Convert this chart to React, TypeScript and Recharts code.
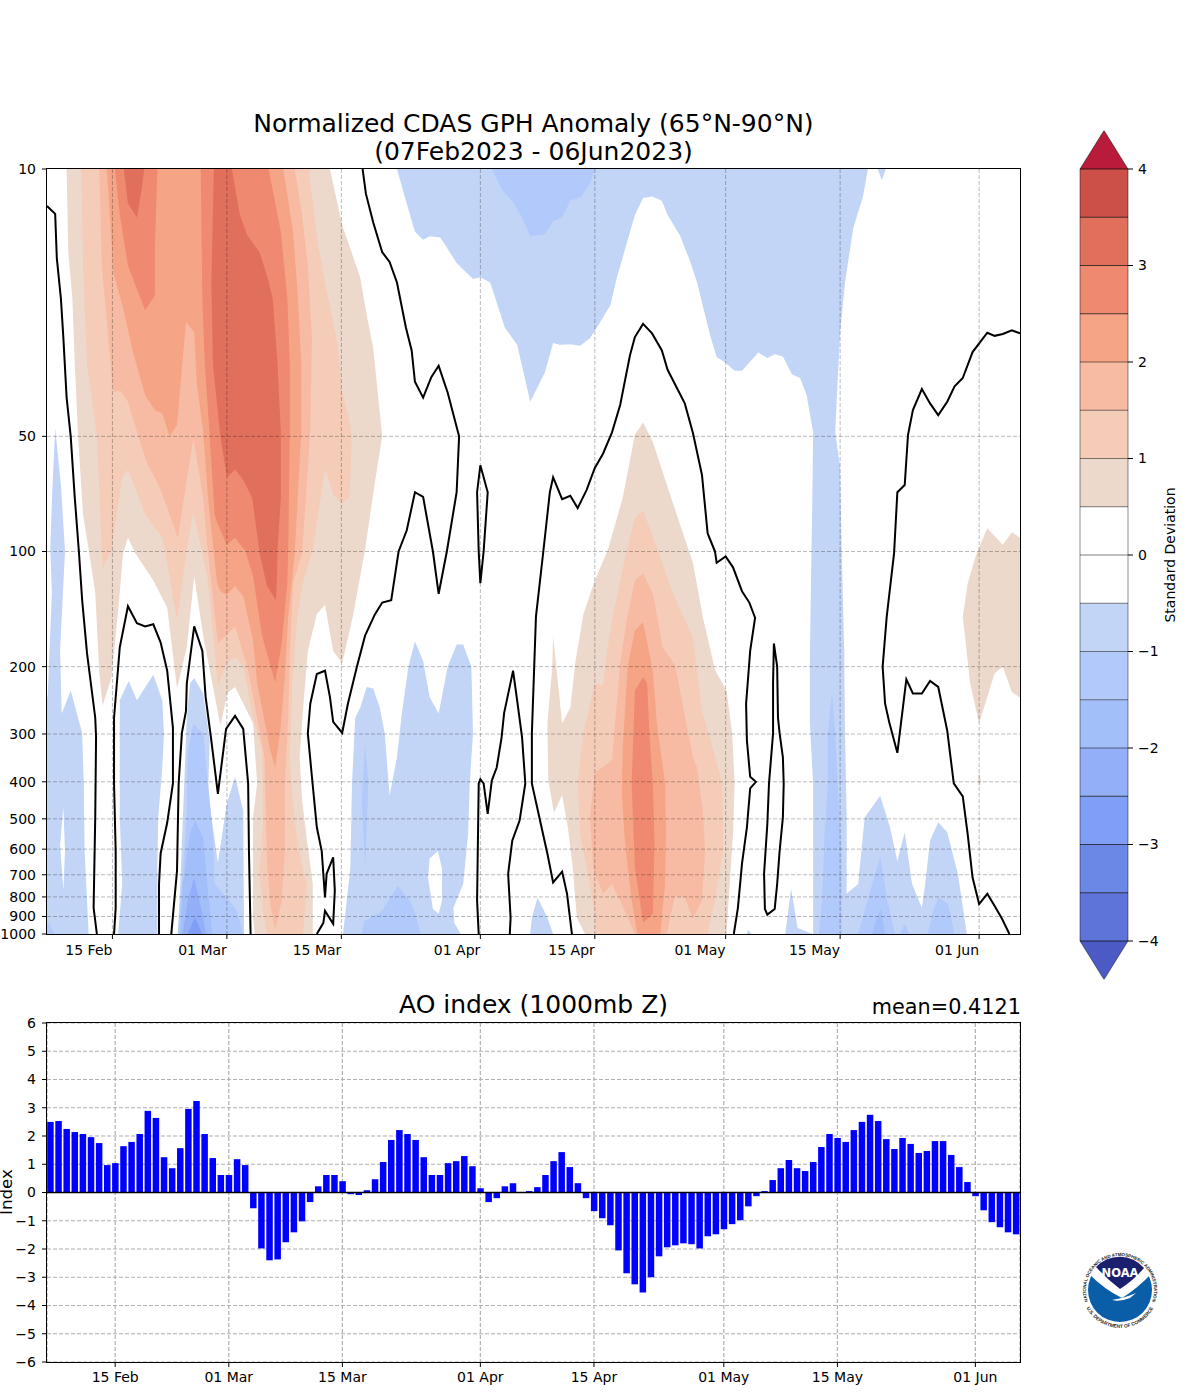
import {
  Bar,
  CartesianGrid,
  ComposedChart,
  ReferenceLine,
  Scatter,
  ScatterChart,
  XAxis,
  YAxis,
} from "recharts";

type Vertex = [number, number];

// x = days since 07 Feb 2023, y = pressure in hPa
const DATE_TICKS = [8, 22, 36, 53, 67, 83, 97, 114];
const DATE_LABELS = ["15 Feb", "01 Mar", "15 Mar", "01 Apr", "15 Apr", "01 May", "15 May", "01 Jun"];
const PRESSURE_TICKS = [10, 50, 100, 200, 300, 400, 500, 600, 700, 800, 900, 1000];
const AO_TICKS = [-6, -5, -4, -3, -2, -1, 0, 1, 2, 3, 4, 5, 6];
const CBAR_TICKS = [-4, -3, -2, -1, 0, 1, 2, 3, 4];

const AO_INDEX = [
  2.5, 2.53, 2.25, 2.14, 2.07, 1.96, 1.75, 0.97, 1.04, 1.64, 1.79, 2.07, 2.89, 2.64, 1.25, 0.86, 1.57, 2.96, 3.24, 2.07,
  1.22, 0.62, 0.62, 1.18, 0.97, -0.56, -1.98, -2.4, -2.37, -1.76, -1.41, -1.02, -0.34, 0.22, 0.62, 0.62, 0.4, -0.06, -0.09, 0.08,
  0.47, 1.08, 1.86, 2.21, 2.07, 1.86, 1.25, 0.62, 0.62, 1.04, 1.11, 1.29, 0.93, 0.15, -0.34, -0.2, 0.22, 0.33, 0.01, 0.05,
  0.19, 0.62, 1.11, 1.43, 0.9, 0.33, -0.2, -0.66, -0.91, -1.16, -2.05, -2.86, -3.25, -3.54, -3.0, -2.26, -1.94, -1.87, -1.8, -1.83,
  -1.98, -1.55, -1.48, -1.3, -1.12, -0.98, -0.49, -0.13, 0.05, 0.44, 0.86, 1.15, 0.86, 0.76, 1.08, 1.61, 2.07, 1.93, 1.79, 2.21,
  2.5, 2.75, 2.53, 1.89, 1.54, 1.93, 1.72, 1.4, 1.47, 1.82, 1.82, 1.33, 0.9, 0.37, -0.13, -0.63, -1.05, -1.23, -1.41, -1.48,
];

// filled contours
const POS05_A: Vertex[] = [[2.4,10],[2.6,16.5],[3.1,21.8],[3.4,32.5],[3.8,50],[4.4,80],[5.1,99],[5.9,128],[6.4,208],[6.8,253],[7.9,213],[8.7,143],[9.3,101],[9.9,92],[10.8,101],[13,119],[14.7,140],[15.9,228],[17.1,178],[18,116],[19.1,166],[21.2,285],[22.1,234],[23,226],[25.2,281],[25.7,404],[25.2,496],[25.2,907],[25.4,1000],[32.5,1000],[32.5,740],[31.8,570],[31.2,448],[30.9,345],[31.3,261],[31.9,182],[33,146],[34,138],[35,182],[36.1,196],[37.4,148],[38.9,99],[40.1,66],[41,50],[39.9,29.4],[39.1,24.1],[38.3,19.2],[36.1,14],[34.6,10]];
const POS10_A: Vertex[] = [[4.2,10],[4.4,17.9],[4.9,32.5],[6.1,50],[6.8,111],[7.9,99],[9.2,64],[9.9,61],[12,80],[14.1,92],[14.4,99],[15.9,151],[17.1,99],[17.9,79],[19,101],[19.6,116],[20.9,224],[22,196],[23,189],[24,200],[25.2,272],[26.3,331],[26.4,526],[26,682],[26.4,854],[26.9,1000],[31.3,1000],[31.8,740],[31.3,684],[30.3,515],[29.9,404],[29.7,345],[30,221],[30.6,148],[31.3,121],[32.5,99],[34,61],[35,71],[36.1,75],[37,72],[37.3,50],[37,46],[36.1,38],[35.5,28.3],[34,19.8],[33.1,15.5],[32,10]];
const POS15_A: Vertex[] = [[6.4,10],[6.7,17.9],[8.1,38.2],[9,38],[9.9,40.6],[11.4,51.8],[12.2,58.5],[13.8,68],[16,92],[17.9,50.5],[19.1,72.5],[19.7,101],[20.9,174],[23,157],[24.5,200],[25.7,272],[26.6,345],[26.9,645],[27.3,832],[27.9,975],[28.7,818],[29.1,607],[29.1,404],[29.5,272],[29.7,182],[30.1,121],[31.2,101],[32.2,48.8],[32.4,27.6],[31.9,17.9],[31.2,13.2],[30.3,10]];
const POS20_A: Vertex[] = [[7.3,10],[7.9,15.5],[8.1,18.6],[9.3,23.1],[10.5,30.1],[12,39],[13.2,42.7],[14.1,43.6],[15,50],[15.9,46.7],[17,25.1],[18,26.7],[18.3,36],[19.1,48.7],[19.7,72.5],[20.8,121],[21.2,127],[22,130],[23,123],[24,131],[25.2,171],[25.7,221],[27.3,331],[27.9,367],[28.5,299],[29.1,213],[29.5,148],[30.3,101],[31.1,48.8],[31.1,32.5],[30.7,21.8],[30.1,14.6],[28.9,10]];
const POS25_A: Vertex[] = [[8.3,10],[8.9,13.2],[9.9,17.9],[12,23.4],[13.2,21.4],[13.2,16.1],[13.5,10]];
const POS25_B: Vertex[] = [[18.8,10],[19,21.8],[19.3,32.5],[19.9,50],[20.5,80],[20.9,85],[22,96],[23,92],[24,98],[24.2,99],[25.2,116],[26.3,166],[27.9,220],[28.7,174],[29.4,121],[29.5,99],[29.7,48.8],[29.7,32.5],[29.4,21.8],[28.6,14.6],[27.1,10]];
const POS30_A: Vertex[] = [[9.4,10],[9.9,12.3],[11,13.4],[11.6,11.2],[11.9,10]];
const POS30_B: Vertex[] = [[20.4,10],[20.2,16.1],[20.1,19.8],[20.3,32.5],[21.2,50],[22,64],[23,61],[24,65],[25.1,72.5],[26,101],[26.9,123],[28,134],[28.1,121],[28.2,99],[28.6,72.5],[28.6,48.8],[28.2,32.5],[27.6,21.8],[27,19.3],[26,16.5],[24.5,14.9],[23.6,13.2],[22.6,10]];

const POS05_B: Vertex[] = [[72.9,46],[71.9,49.5],[70.4,72.5],[68.6,99],[67,119],[65.6,146],[64.6,196],[64,256],[63,281],[61.9,166],[61.8,200],[61.2,281],[61.3,395],[62,482],[63,434],[63.7,526],[64.3,672],[64.8,907],[65.8,1000],[83.1,1000],[83.5,740],[83.9,548],[84.1,404],[83.8,299],[83.1,231],[81.7,204],[80.2,148],[79,107],[78.6,101],[76.2,71],[74.1,51.8]];
const POS10_B: Vertex[] = [[72.9,78],[71.9,82],[70.9,99],[69.2,148],[68.5,182],[68,224],[67,221],[65.6,299],[64.9,404],[65.2,548],[66.4,740],[67,907],[67,1000],[80.8,1000],[81.7,818],[82.7,607],[82.6,404],[81.5,331],[80.1,261],[79,168],[76.2,123],[74.7,99],[73.7,87]];
const POS15_B: Vertex[] = [[72.9,114],[71.9,119],[70.9,151],[70.1,196],[69.1,352],[67,379],[66.4,496],[66.8,672],[68,785],[69.1,740],[70.1,818],[71.9,1000],[75.8,1000],[76.8,795],[78,803],[79,912],[80.1,818],[80.5,607],[80.2,476],[79.5,367],[79,345],[76.8,198],[75.3,178],[74.1,129]];
const POS20_B: Vertex[] = [[72.9,153],[71.9,161],[71,200],[70.4,331],[70.3,430],[70.7,580],[71.5,818],[72.2,1000],[75,1000],[75.6,740],[75.7,548],[75.6,404],[74.6,283],[74.1,205]];
const POS25_C: Vertex[] = [[72.9,213],[71.9,231],[71.5,404],[71.9,672],[72.9,935],[74.1,885],[74.3,580],[74.1,404],[73.7,306],[73.4,221]];
const POS05_C: Vertex[] = [[113.7,101],[115,87],[116.9,96],[118,89],[119,92],[119,241],[118,233],[116.9,200],[115.9,208],[115,240],[114,281],[112.9,221],[112,148],[112.6,121]];
const POS05_D: Vertex[] = [[114,377],[114.2,396],[114,414],[113.9,396]];

const NEG05_A: Vertex[] = [[1,47.6],[1.7,67],[2.2,100],[1.6,181],[1.8,265],[2.9,231],[4.3,298],[4.5,405],[4.6,607],[4.9,820],[5.1,1000],[0,1000],[0,245],[0.1,234],[0.6,128],[0.4,99],[0.6,73]];
const HOLE_A: Vertex[] = [[2,465],[1.6,585],[2,770],[2.2,607]];
const NEG10_A: Vertex[] = [[0,925],[1,1000],[0,1000]];
const NEG05_B: Vertex[] = [[10,218],[11,245],[13,210],[14.1,245],[14.3,299],[14.1,367],[13.6,496],[13.5,672],[13.5,1000],[8.7,1000],[9.2,740],[8.9,496],[8.9,245]];
const NEG05_C: Vertex[] = [[18,214],[19.1,235],[19.9,312],[19.7,430],[20.9,650],[22,455],[23,388],[24,476],[24.1,1000],[16,1000],[16.3,740],[17.1,272],[17.5,221]];
const NEG10_C: Vertex[] = [[17.9,283],[19.1,299],[19.7,404],[20.3,548],[20.5,740],[22,803],[23.2,870],[24,1000],[16,1000],[16.5,740],[17.1,496],[17.2,331]];
const NEG15_C: Vertex[] = [[18.1,505],[19.1,560],[19.6,740],[20.2,1000],[16.3,1000],[16.6,740],[17.5,548]];
const NEG20_C: Vertex[] = [[18,712],[19.1,907],[19.4,1000],[16.6,1000],[17.2,818]];
const NEG25_C: Vertex[] = [[18.1,907],[19,1000],[17.2,1000]];
const NEG05_D: Vertex[] = [[39.1,226],[39.9,228],[40.7,256],[41.3,299],[41.9,435],[42.8,345],[43.4,265],[44.2,200],[45,172],[46,193],[46.8,240],[47.9,265],[49,200],[50.1,175],[50.9,175],[51.9,200],[52.1,299],[51.7,404],[51.5,548],[50.9,740],[49.7,854],[49.8,935],[50.6,1000],[36.2,1000],[37.1,672],[37.3,404],[37.7,272],[38.3,256]];
const HOLE_D: Vertex[] = [[47.8,607],[46.8,635],[46.6,712],[47.2,860],[47.9,885],[48.3,818],[48.3,672]];
const NEG10_D: Vertex[] = [[38.9,318],[39.3,404],[38.9,672],[38.5,448]];
const NEG10_E: Vertex[] = [[42.9,748],[44.4,818],[45,880],[45.7,1000],[38.5,1000],[38.8,925],[40.7,880],[41.1,860]];
const NEG05_E: Vertex[] = [[60,803],[61.2,907],[61.9,1000],[59.1,1000],[59.3,907]];
const NEG05_F: Vertex[] = [[42.8,10],[43.8,11.9],[45,14.6],[46,15.3],[46.8,15],[48.1,15.1],[50.1,17.6],[52.1,19.4],[53,19.2],[54.2,19.8],[56,26],[57.5,28.8],[59.1,40.6],[60.9,34],[61.9,28.5],[62.7,28.8],[64,28.7],[65.2,29],[66.4,27.7],[67.3,25.9],[68.9,22.7],[69.7,19.2],[71.9,13.2],[72.9,11.9],[74,11.8],[75.2,12.1],[75.9,13.2],[77.4,14.9],[78.6,17.3],[79.5,19.8],[81.1,27.2],[81.9,31],[82.9,32],[84.1,33.7],[85,33.7],[87,30.2],[88.1,31.2],[89,30.5],[90,30.9],[91.1,34.4],[92.1,35.2],[92.9,39],[93.7,48.8],[93.6,72.5],[93.3,189],[93.3,281],[93.7,404],[93.7,607],[93.7,1000],[112.5,1000],[111.4,696],[110.1,542],[109,510],[108,570],[107.4,740],[107,854],[105.8,740],[104.9,542],[104,645],[103.1,526],[101.9,435],[100,496],[99.2,740],[97.8,785],[97.8,496],[97.6,299],[97.5,182],[97.2,101],[97,60],[96.4,48.8],[96.6,39.6],[97,26.7],[97.6,19.8],[98.6,14.3],[99.1,13.2],[99.8,11.8],[100.4,10]];
const NEG05_G: Vertex[] = [[101.6,10],[102.1,10.7],[102.6,10]];
const NEG05_H: Vertex[] = [[90.3,1000],[91,760],[91.8,965],[93.1,990],[93.7,1000]];
const NEG05_I: Vertex[] = [[85.7,975],[86.2,1000],[85.6,1000]];
const NEG10_F: Vertex[] = [[54.4,10],[55.6,11.3],[57,12.2],[58.1,13.4],[59.1,15],[60.9,14.8],[61.9,13.7],[63,13.4],[64,12.1],[65.4,11.8],[66.4,10.9],[67,10]];
const NEG10_G: Vertex[] = [[96,233],[95.5,299],[95.5,404],[95.1,548],[94.8,818],[94.4,1000],[97.2,1000],[97.2,607],[96.7,404],[96.4,299]];
const NEG10_H: Vertex[] = [[101.9,627],[102.7,803],[103.7,1000],[99.2,1000],[100.7,770]];
const NEG10_I: Vertex[] = [[104.9,940],[105.5,1000],[104.3,1000]];
const NEG10_J: Vertex[] = [[109,803],[110.2,835],[111,1000],[107.7,1000],[108.4,870]];
const NEG15_H: Vertex[] = [[102,860],[102.5,1000],[100.9,1000],[101.5,907]];

// zero contours
const ZERO_1: Vertex[] = [[0,12.5],[1,13.1],[1.2,17.1],[1.7,21.8],[2,27.6],[2.4,39.6],[2.9,50],[3.4,72.5],[3.9,100],[4.3,134],[4.9,185],[5.9,272],[6,306],[5.9,496],[5.7,854],[6.1,1000]];
const ZERO_2: Vertex[] = [[8.2,1000],[8.4,854],[8.4,607],[8.2,404],[8.2,272],[8.9,178],[9.9,139],[11,154],[12,157],[13,155],[13.9,173],[14.7,205],[15.4,289],[15.4,404],[14.7,512],[13.9,615],[13.7,740],[13.7,1000]];
const ZERO_3: Vertex[] = [[15.2,1000],[15.9,684],[16.1,404],[16.5,298],[17,261],[17.1,221],[18,157],[19,182],[19.4,240],[20.1,312],[20.9,430],[21.9,291],[23,269],[24,291],[24.6,404],[24.7,607],[24.9,1000]];
const ZERO_4: Vertex[] = [[33,1000],[33.8,935],[34,870],[35,940],[35.2,770],[35,630],[34.2,696],[34,803],[33.6,607],[33,526],[32.4,388],[31.9,299],[32.2,250],[33,209],[34,205],[34.6,240],[35,279],[36.1,298],[36.8,250],[37.9,200],[38.9,166],[40.1,146],[41,136],[42.1,134],[43,100],[44,88],[45,70],[46,72],[47.2,100],[47.9,129],[48.9,100],[50.1,70],[50.4,50],[49,38.4],[47.9,32.7],[47,35],[46,39.6],[45,36],[44.6,29.8],[43.9,26],[42.8,19.8],[41.9,17.5],[41,16.5],[39.9,13.8],[39,11.6],[38.6,10]];
const ZERO_5: Vertex[] = [[53,121],[53.4,100],[53.9,70],[53,59.5],[52.6,70],[52.8,100],[53,121]];
const ZERO_6: Vertex[] = [[52.8,1000],[52.6,818],[52.8,404],[53,394],[53.4,404],[53.9,485],[54.4,397],[55,367],[55.6,306],[55.9,265],[57,205],[57.5,245],[58.1,306],[58.5,404],[57.8,505],[56.9,570],[56.4,696],[56.7,907],[56.6,1000]];
const ZERO_7: Vertex[] = [[64.2,1000],[63.6,785],[63,687],[61.9,733],[61.2,617],[60.3,505],[59.3,404],[59.3,299],[59.8,148],[60.7,100],[61.5,70],[61.9,64],[63,73],[64,71.5],[64.9,77],[66,69],[67,60.5],[68,55.5],[69.1,48.8],[70.1,41.4],[71.3,30.7],[71.9,27.5],[72.9,25.4],[74,26.9],[75.2,29.8],[75.9,33.5],[78,41],[79,49],[80.1,63],[80.8,89.7],[81.7,100],[81.9,107],[83,103],[83.9,110],[85,127],[85.9,136],[86.6,149],[86,182],[85.5,250],[85.6,312],[86,388],[86.7,400],[86,416],[85.6,526],[85,655],[84.5,854],[84,1000]];
const ZERO_8: Vertex[] = [[88.9,174],[89.3,200],[89.4,272],[89.6,299],[90,345],[90.1,404],[90,496],[89.6,607],[89.3,740],[89,860],[88.1,890],[87.8,860],[87.7,696],[88.1,515],[88.3,404],[88.8,299],[88.8,221],[88.9,174]];
const ZERO_9: Vertex[] = [[117.7,1000],[116.8,912],[115.9,845],[115,785],[114,835],[113.2,712],[112.6,548],[112,437],[110.9,404],[110.1,294],[109,226],[108,218],[107,235],[105.9,235],[105.1,216],[104,336],[103,279],[102.5,250],[102.2,200],[102.7,148],[103.6,101],[104,70],[104.9,67],[105.3,49.6],[105.9,42.7],[107,37.6],[108,41],[109,44],[110.1,40.6],[111,37],[112,35.2],[113.2,30.1],[115,26.8],[115.9,27.3],[116.9,27],[118,26.4],[119,26.9]];

// colour per band, bottom of the colorbar to the top
const BAND_EDGES = [-4, -3.5, -3, -2.5, -2, -1.5, -1, -0.5, 0, 0.5, 1, 1.5, 2, 2.5, 3, 3.5, 4];
const BAND_COLORS = ["#5e74d9", "#6c88e6", "#7f9ef5", "#92aff7", "#a3bffa", "#b2c9fb", "#c2d5f6", "#ffffff", "#ffffff", "#ecd9cc", "#f5ccb8", "#f7bba3", "#f5a586", "#ef8a70", "#e0705c", "#cd5048"];
const UNDER_COLOR = "#4b5ac4";
const OVER_COLOR = "#b91c3a";

const COL = {
  n25: "#92aff7",
  n20: "#a3bffa",
  n15: "#b2c9fb",
  n10: "#c2d5f6",
  p05: "#ecd9cc",
  p10: "#f5ccb8",
  p15: "#f7bba3",
  p20: "#f5a586",
  p25: "#ef8a70",
  p30: "#e0705c",
};

const FILLS: [Vertex[], string][] = [
  [POS05_A, COL.p05], [POS10_A, COL.p10], [POS15_A, COL.p15], [POS20_A, COL.p20], [POS25_A, COL.p25], [POS25_B, COL.p25], [POS30_A, COL.p30], [POS30_B, COL.p30],
  [POS05_B, COL.p05], [POS10_B, COL.p10], [POS15_B, COL.p15], [POS20_B, COL.p20], [POS25_C, COL.p25], [POS05_C, COL.p05], [POS05_D, COL.p05],
  [NEG05_A, COL.n10], [HOLE_A, "#ffffff"], [NEG10_A, COL.n15], [NEG05_B, COL.n10], [NEG05_C, COL.n10], [NEG10_C, COL.n15], [NEG15_C, COL.n20], [NEG20_C, COL.n25], [NEG25_C, "#7f9ef5"],
  [NEG05_D, COL.n10], [HOLE_D, "#ffffff"], [NEG10_D, COL.n15], [NEG10_E, COL.n15], [NEG05_E, COL.n10], [NEG05_F, COL.n10], [NEG05_G, COL.n10], [NEG05_H, COL.n10], [NEG05_I, COL.n10],
  [NEG10_F, COL.n15], [NEG10_G, COL.n15], [NEG10_H, COL.n15], [NEG10_I, COL.n15], [NEG10_J, COL.n15], [NEG15_H, COL.n20],
];

const ZEROS = [ZERO_1, ZERO_2, ZERO_3, ZERO_4, ZERO_5, ZERO_6, ZERO_7, ZERO_8, ZERO_9];

const aoRows = AO_INDEX.map((ao, day) => ({ day, ao }));
const toPoints = (pts: Vertex[]) => pts.map(([d, p]) => ({ d, p }));
const labelForDay = (day: number) => DATE_LABELS[DATE_TICKS.indexOf(day)] ?? "";
const minus = (v: number) => String(v).replace("-", "\u2212");
const noDot = () => <g />;

// grid lines go through Scatter too, ReferenceLine ends up underneath the fills
const gridLines: Vertex[][] = [
  ...PRESSURE_TICKS.slice(1, -1).map((p): Vertex[] => [[0, p], [119, p]]),
  ...DATE_TICKS.map((d): Vertex[] => [[d, 10], [d, 1000]]),
];

const FONT = "'DejaVu Sans', sans-serif";
const TICK_STYLE = { fill: "#000", fontSize: 14, fontFamily: FONT };
const AXIS_STROKE = { stroke: "#000", strokeWidth: 1 };
const GRID_TOP = "rgba(0,0,0,0.27)";

function TopDateTick({ x, y, payload }: any) {
  return (
    <text x={x} y={y + 14} textAnchor="end" {...TICK_STYLE}>
      {labelForDay(payload.value)}
    </text>
  );
}

function ContourPanel() {
  return (
    <ScatterChart width={1030} height={964} margin={{ top: 169, right: 10, bottom: 0, left: 0 }}>
      <XAxis
        type="number"
        dataKey="d"
        domain={[0, 119]}
        ticks={DATE_TICKS}
        interval={0}
        height={30}
        tick={TopDateTick}
        tickSize={5}
        tickLine={AXIS_STROKE}
        axisLine={false}
        allowDataOverflow
      />
      <YAxis
        type="number"
        dataKey="p"
        scale="log"
        domain={[10, 1000]}
        reversed
        ticks={PRESSURE_TICKS}
        interval={0}
        width={47}
        tick={TICK_STYLE}
        tickSize={5}
        tickMargin={6}
        tickLine={AXIS_STROKE}
        axisLine={false}
        allowDataOverflow
      />
      {FILLS.map(([pts, color], i) => (
        <Scatter
          key={i}
          data={toPoints(pts)}
          shape={noDot}
          line={{ fill: color, stroke: "none" }}
          lineJointType="linear"
          isAnimationActive={false}
        />
      ))}
      {gridLines.map((pts, i) => (
        <Scatter
          key={`grid${i}`}
          data={toPoints(pts)}
          shape={noDot}
          line={{ stroke: GRID_TOP, strokeDasharray: "4 2", fill: "none" }}
          isAnimationActive={false}
        />
      ))}
      {ZEROS.map((pts, i) => (
        <Scatter
          key={`zero${i}`}
          data={toPoints(pts)}
          shape={noDot}
          line={{ stroke: "#000", strokeWidth: 2, fill: "none" }}
          lineJointType="linear"
          isAnimationActive={false}
        />
      ))}
    </ScatterChart>
  );
}

function Colorbar() {
  const cells = BAND_COLORS.map((color, i) => ({
    color,
    pts: [[0, BAND_EDGES[i]], [1, BAND_EDGES[i]], [1, BAND_EDGES[i + 1]], [0, BAND_EDGES[i + 1]]] as Vertex[],
  }));
  const over: Vertex[] = [[0, 4], [0.5, 4.4], [1, 4]];
  const under: Vertex[] = [[0, -4], [0.5, -4.4], [1, -4]];
  const outline: Vertex[] = [[0, -4], [0, 4], [0.5, 4.4], [1, 4], [1, -4], [0.5, -4.4], [0, -4]];
  return (
    <ScatterChart width={108} height={870} margin={{ top: 10.4, right: 0, bottom: 10.4, left: 20 }}>
      <XAxis type="number" dataKey="d" domain={[0, 1]} hide />
      <YAxis
        type="number"
        dataKey="p"
        orientation="right"
        domain={[-4.4, 4.4]}
        ticks={CBAR_TICKS}
        interval={0}
        width={40}
        tick={TICK_STYLE}
        tickFormatter={minus}
        tickSize={5}
        tickMargin={5}
        tickLine={AXIS_STROKE}
        axisLine={false}
        allowDataOverflow
      />
      {cells.map((c, i) => (
        <Scatter key={i} data={toPoints(c.pts)} shape={noDot} line={{ fill: c.color, stroke: "none" }} isAnimationActive={false} />
      ))}
      <Scatter data={toPoints(over)} shape={noDot} line={{ fill: OVER_COLOR, stroke: "none" }} isAnimationActive={false} />
      <Scatter data={toPoints(under)} shape={noDot} line={{ fill: UNDER_COLOR, stroke: "none" }} isAnimationActive={false} />
      {BAND_EDGES.map((v) => (
        <Scatter
          key={v}
          data={toPoints([[0, v], [1, v]])}
          shape={noDot}
          line={{ stroke: v > 2 || v < -2 ? "rgba(0,0,0,0.7)" : "rgba(0,0,0,0.5)", strokeWidth: 1, fill: "none" }}
          isAnimationActive={false}
        />
      ))}
      <Scatter data={toPoints(outline)} shape={noDot} line={{ fill: "none", stroke: "rgba(0,0,0,0.45)", strokeWidth: 1 }} isAnimationActive={false} />
    </ScatterChart>
  );
}

function AoPanel() {
  return (
    <ComposedChart width={1030} height={391} data={aoRows} margin={{ top: 22, right: 10, bottom: 0, left: 0 }}>
      <CartesianGrid stroke="#b0b0b0" strokeWidth={1.2} strokeDasharray="4 2" />
      <XAxis
        type="number"
        dataKey="day"
        domain={[-0.4, 119.5]}
        ticks={DATE_TICKS}
        interval={0}
        height={30}
        tick={TICK_STYLE}
        tickFormatter={labelForDay}
        tickSize={5}
        tickMargin={5}
        tickLine={AXIS_STROKE}
        axisLine={false}
        allowDataOverflow
      />
      <YAxis
        type="number"
        domain={[-6, 6]}
        ticks={AO_TICKS}
        interval={0}
        width={47}
        tick={TICK_STYLE}
        tickFormatter={minus}
        tickSize={5}
        tickMargin={6}
        tickLine={AXIS_STROKE}
        axisLine={false}
      />
      <Bar dataKey="ao" fill="#0000ff" barSize={6.5} isAnimationActive={false} />
      <ReferenceLine y={0} stroke="#000" strokeWidth={1.6} />
    </ComposedChart>
  );
}

function NoaaLogo() {
  return (
    <svg width={100} height={100} viewBox="0 0 100 100" style={{ position: "absolute", left: 1070, top: 1240 }}>
      <defs>
        <path id="noaaTop" d="M 19.2,64.4 A 34,34 0 1 1 80.8,64.4" />
        <path id="noaaBottom" d="M 12.6,56.6 A 38,38 0 0 0 87.4,56.6" />
      </defs>
      <circle cx={50} cy={50} r={32} fill="#0a5ea8" />
      <path d="M18,33 Q35,50 52,58 Q68,48 82,33 A32,32 0 0 0 18,33 Z" fill="#fff" />
      <path d="M26,27 Q38,40 50,49 Q64,40 74,28 A32,32 0 0 0 26,27 Z" fill="#1a1f6e" />
      <path d="M42,60 Q55,58 66,53 L60,58 Q50,62 42,60 Z" fill="#fff" />
      <text x={50} y={37} textAnchor="middle" fill="#fff" fontFamily={FONT} fontWeight="bold" fontSize={11.5}>NOAA</text>
      <text fontFamily="'Liberation Sans', sans-serif" fontWeight="bold" fontSize={4.5} fill="#222">
        <textPath href="#noaaTop" startOffset="50%" textAnchor="middle">NATIONAL OCEANIC AND ATMOSPHERIC ADMINISTRATION</textPath>
      </text>
      <text fontFamily="'Liberation Sans', sans-serif" fontWeight="bold" fontSize={4.8} fill="#222">
        <textPath href="#noaaBottom" startOffset="50%" textAnchor="middle">U.S. DEPARTMENT OF COMMERCE</textPath>
      </text>
    </svg>
  );
}

const frame = (left: number, top: number, width: number, height: number) => (
  <div
    style={{
      position: "absolute",
      left: left - 1,
      top: top - 1,
      width,
      height,
      border: "1.5px solid #000",
      pointerEvents: "none",
    }}
  />
);

export default function App() {
  return (
    <div style={{ position: "absolute", left: 0, top: 0, width: 1200, height: 1400, background: "#fff", fontFamily: FONT, overflow: "hidden", color: "#000" }}>
      <div style={{ position: "absolute", left: 47, top: 110, width: 973, textAlign: "center", fontSize: 25, lineHeight: "28px" }}>
        Normalized CDAS GPH Anomaly (65°N-90°N)
        <br />
        (07Feb2023 - 06Jun2023)
      </div>
      <div style={{ position: "absolute", left: 0, top: 0 }}>
        <ContourPanel />
      </div>
      {frame(47, 169, 973, 765)}
      <div style={{ position: "absolute", left: 1060, top: 120 }}>
        <Colorbar />
      </div>
      <div style={{ position: "absolute", left: 1170, top: 555, transform: "translate(-50%,-50%) rotate(-90deg)", fontSize: 14, whiteSpace: "nowrap" }}>
        Standard Deviation
      </div>
      <div style={{ position: "absolute", left: 47, top: 991, width: 973, textAlign: "center", fontSize: 25, lineHeight: "28px" }}>
        AO index (1000mb Z)
      </div>
      <div style={{ position: "absolute", right: 179, top: 993, fontSize: 20.8, lineHeight: "28px" }}>mean=0.4121</div>
      <div style={{ position: "absolute", left: 0, top: 1001 }}>
        <AoPanel />
      </div>
      {frame(47, 1023, 973, 339)}
      <div style={{ position: "absolute", left: 6, top: 1192, transform: "translate(-50%,-50%) rotate(-90deg)", fontSize: 16.7, lineHeight: "16px", whiteSpace: "nowrap" }}>
        Index
      </div>
      <NoaaLogo />
    </div>
  );
}
